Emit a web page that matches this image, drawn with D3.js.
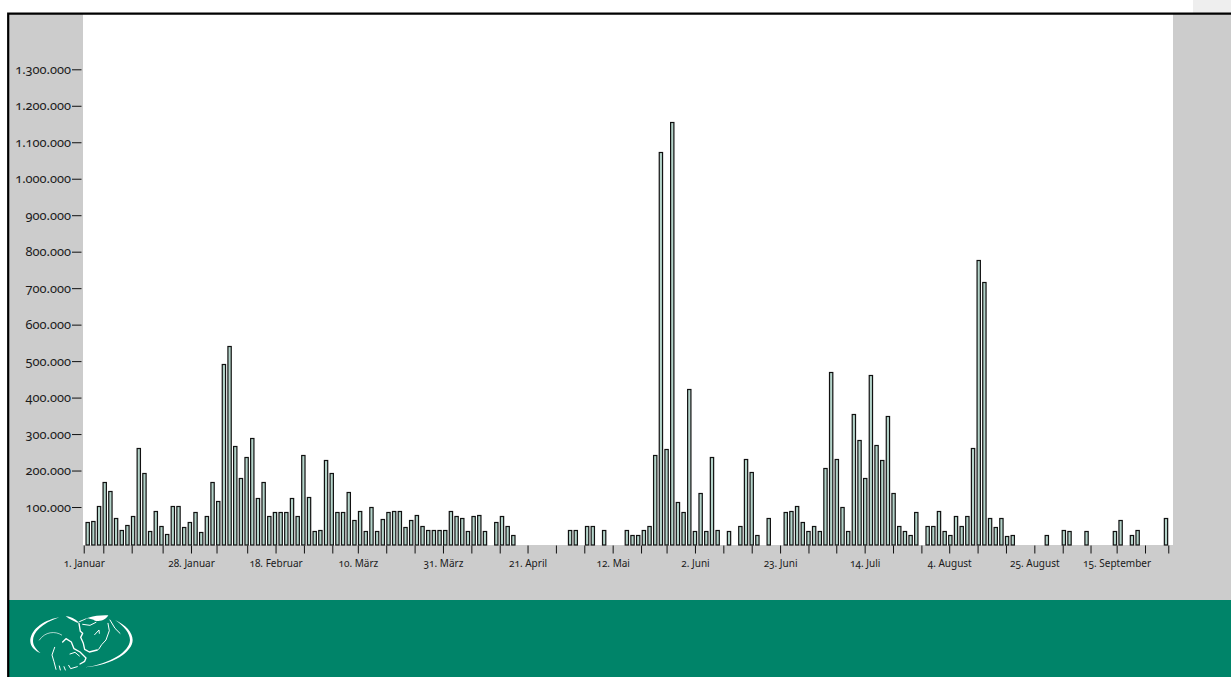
<!DOCTYPE html>
<html>
<head>
<meta charset="utf-8">
<title>Chart</title>
<script src="https://cdn.jsdelivr.net/npm/d3@7/dist/d3.min.js"></script>
<style>
  html, body { margin: 0; padding: 0; background: #fff; overflow: hidden; }
  svg { display: block; }
  text { font-family: "Noto Sans", Lato, sans-serif; font-feature-settings: "onum" 1; fill: #1a1a1a; }
</style>
</head>
<body>
<svg id="chart"></svg>
<script>
// Werte in Tausend, ein Eintrag pro Balkenplatz, null = kein Balken
const values = [
  63, 65, 105, 170, 146, 74, 40, 54, 79, 265,
  197, 37, 93, 52, 28, 105, 105, 49, 63, 90,
  35, 77, 172, 120, 494, 545, 271, 183, 241, 292,
  128, 170, 79, 88, 88, 88, 128, 77, 246, 131,
  36, 39, 233, 195, 88, 88, 145, 66, 91, 36,
  102, 36, 69, 88, 91, 91, 47, 66, 80, 52,
  41, 39, 39, 39, 91, 77, 74, 36, 77, 80,
  36, null, 63, 77, 52, 26, null, null, null, null,
  null, null, null, null, null, 39, 39, null, 50, 52,
  null, 39, null, null, null, 39, 26, 26, 39, 52,
  246, 1076, 261, 1158, 117, 88, 425, 36, 142, 36,
  241, 39, null, 36, null, 50, 234, 198, 26, null,
  74, null, null, 88, 91, 106, 63, 36, 50, 36,
  210, 473, 235, 103, 36, 358, 286, 182, 464, 272,
  231, 351, 142, 50, 36, 25, 88, null, 50, 50,
  91, 36, 25, 77, 52, 77, 265, 780, 720, 74,
  47, 72, 22, 26, null, null, null, null, null, 25,
  null, null, 39, 36, null, null, 36, null, null, null,
  null, 36, 66, null, 25, 41, null, null, null, null,
  74
];

const yTicks = [100, 200, 300, 400, 500, 600, 700, 800, 900, 1000, 1100, 1200, 1300];

// Wochenstriche, gemessen in Balkenplaetzen
const weekTicks = [
  -0.7, 2.75, 7.75, 13.2, 18.2, 22.7, 28.1, 33.1, 38.1, 43.1,
  47.6, 52.6, 57.6, 62.6, 67.6, 72.6, 77.5, 82.5, 87.5, 92.5,
  97.5, 102, 107, 112, 117, 122, 127, 131.9, 136.9, 141.9,
  146.9, 151.8, 156.8, 161.8, 166.8, 171.8, 176.7, 181.3, 186.3, 190.4
];
const tickLabels = new Map([
  [-0.7, '1. Januar'], [18.2, '28. Januar'], [33.1, '18. Februar'], [47.6, '10. März'],
  [62.6, '31. März'], [77.5, '21. April'], [92.5, '12. Mai'], [107, '2. Juni'],
  [122, '23. Juni'], [136.9, '14. Juli'], [151.8, '4. August'], [166.8, '25. August'],
  [181.3, '15. September']
]);

const svgWidth = 1231, svgHeight = 677;
const svg = d3.select('#chart').attr('width', svgWidth).attr('height', svgHeight);

const grey = '#cccccc', green = '#008469';

// Hintergrund
svg.append('rect').attr('x', 1193).attr('y', 0).attr('width', 38).attr('height', 13).attr('fill', '#eeeeee');
svg.append('rect').attr('x', 8).attr('y', 14).attr('width', 1223).attr('height', 586).attr('fill', grey);
svg.append('rect').attr('x', 83).attr('y', 14).attr('width', 1090).attr('height', 531).attr('fill', '#fff');
svg.append('rect').attr('x', 8).attr('y', 600).attr('width', 1223).attr('height', 77).attr('fill', green);
svg.append('path').attr('d', 'M8.2,677V13.7H1231').attr('fill', 'none').attr('stroke', '#000').attr('stroke-width', 2.2);

const x = d3.scaleLinear().domain([0, 190]).range([87.7, 1166]);
const y = d3.scaleLinear().domain([0, 1300]).range([544.5, 70.3]);

const fmt = d3.formatLocale({ decimal: ',', thousands: '.', grouping: [3], currency: ['', ''] }).format(',d');

// Balken
svg.append('g').selectAll('rect')
  .data(values.map((v, i) => ({ i, v })).filter(d => d.v !== null))
  .enter().append('rect')
  .attr('x', d => x(d.i) - 1.65)
  .attr('y', d => Math.round(y(d.v)) + 0.5)
  .attr('width', 3.3)
  .attr('height', d => 545 - Math.round(y(d.v)) - 0.5)
  .attr('fill', '#b4d4ca')
  .attr('stroke', '#111')
  .attr('stroke-width', 1.2);

// y-Achse
const yAxis = svg.append('g').attr('transform', 'translate(81.5,-1)')
  .call(d3.axisLeft(y).tickValues(yTicks).tickSize(9.5).tickPadding(1).tickFormat(d => fmt(d * 1000)));
yAxis.select('.domain').remove();
yAxis.selectAll('line').attr('stroke', '#111').attr('stroke-width', 1);
yAxis.selectAll('text').attr('font-size', 12.8);

// x-Achse
const xAxis = svg.append('g').attr('transform', 'translate(0,545.5)')
  .call(d3.axisBottom(x).tickValues(weekTicks).tickSize(8).tickPadding(6).tickFormat(d => tickLabels.get(d) || ''));
xAxis.select('.domain').remove();
xAxis.selectAll('line').attr('stroke', '#111').attr('stroke-width', 1);
xAxis.selectAll('text').attr('font-size', 10);

// Logo
const logo = svg.append('g').attr('transform', 'translate(0,590) scale(0.3333)')
  .attr('fill', 'none').attr('stroke', '#fff').attr('stroke-linecap', 'round').attr('stroke-linejoin', 'round');
logo.append('path').attr('fill', '#fff').attr('stroke', 'none')
  .attr('d', 'M178,82C122,92 90,125 91,155C92,170 105,182 122,190C108,178 99,166 99,153C98,128 125,100 178,82Z');
logo.append('path').attr('fill', '#fff').attr('stroke', 'none')
  .attr('d', 'M345,90C378,105 398,128 398,150C398,185 340,225 255,232C330,222 389,185 390,150C390,130 372,108 345,90Z');
logo.append('path').attr('fill', '#fff').attr('stroke', 'none')
  .attr('d', 'M197,78C212,80 225,86 235,96C250,86 285,74 325,76C318,88 305,96 285,92C280,88 272,88 262,84C255,90 245,94 232,98C220,92 208,88 197,78Z');
logo.append('path').attr('stroke-width', 4)
  .attr('d', 'M237,100L241,124L248,130L242,142L250,160L254,178L268,186L292,180');
logo.append('path').attr('stroke-width', 3)
  .attr('d', 'M296,178L305,164L318,150L328,122L324,100M248,103L270,106L288,97M284,134L297,120L298,130M330,90L345,115L360,130');
logo.append('path').attr('stroke-width', 2).attr('d', 'M118,150C135,125 165,122 185,135');
logo.append('path').attr('stroke-width', 4)
  .attr('d', 'M188,156L198,146L214,156L222,176L240,186L258,204L254,214L240,222');
logo.append('path').attr('stroke-width', 3)
  .attr('d', 'M210,192L225,187L238,198M164,172L156,195L162,215L168,238M178,228L181,240M192,230L196,240M206,226L212,236L232,230');
</script>
</body>
</html>
